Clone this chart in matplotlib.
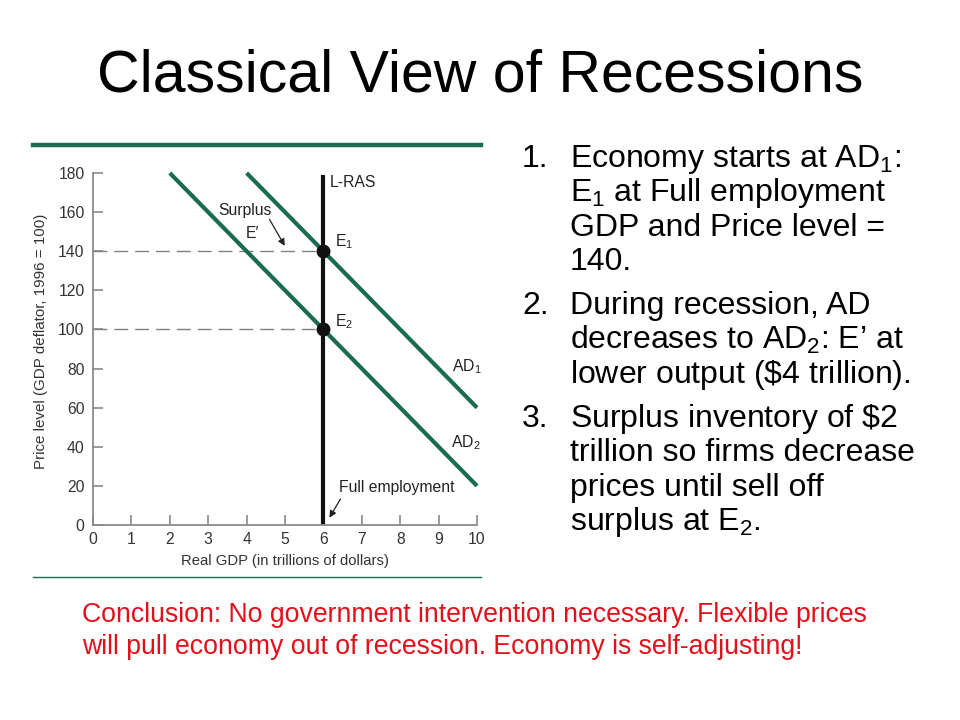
import matplotlib
matplotlib.use("Agg")
import matplotlib.pyplot as plt
from matplotlib.lines import Line2D

plt.rcParams['font.family'] = ['Liberation Sans', 'DejaVu Sans']
plt.rcParams['mathtext.fontset'] = 'custom'
plt.rcParams['mathtext.rm'] = 'Liberation Sans'
plt.rcParams['mathtext.it'] = 'Liberation Sans:italic'

# ---- data ----
ad1_x = [4, 10]
ad1_y = [180, 60]
ad2_x = [2, 10]
ad2_y = [180, 20]
lras_x = [6, 6]
lras_y = [0, 179]
eq_x = [6, 6]
eq_y = [140, 100]
dash_levels = [140, 100]
x_ticks = [0, 1, 2, 3, 4, 5, 6, 7, 8, 9, 10]
y_ticks = [0, 20, 40, 60, 80, 100, 120, 140, 160, 180]

title = "Classical View of Recessions"
bullets = [
    ("1.", ["Economy starts at AD$_1$:", "E$_1$ at Full employment", "GDP and Price level =", "140."]),
    ("2.", ["During recession, AD", "decreases to AD$_2$: E\u2019 at", "lower output ($\\$$4 trillion)."]),
    ("3.", ["Surplus inventory of $\\$$2", "trillion so firms decrease", "prices until sell off", "surplus at E$_2$."]),
]
conclusion = ["Conclusion: No government intervention necessary. Flexible prices",
              "will pull economy out of recession. Economy is self-adjusting!"]

GREEN = '#1b6b52'
W, H = 960, 720
fig = plt.figure(figsize=(9.6, 7.2), dpi=100)

def fx(px):
    return px / W

def fy(py):
    return 1 - py / H

# title
fig.text(0.5, fy(92), title, ha='center', va='baseline', fontsize=42.5, color='black')

# decorative lines
fig.add_artist(Line2D([fx(33), fx(481)], [fy(145), fy(145)], color=GREEN, lw=3.2))
fig.add_artist(Line2D([fx(33), fx(481)], [fy(577), fy(577)], color=GREEN, lw=1.0))

# axes
ax = fig.add_axes([fx(93), fy(525), 384 / W, 352 / H])
ax.set_xlim(0, 10)
ax.set_ylim(0, 180)
for s in ['top', 'right']:
    ax.spines[s].set_visible(False)
for s in ['left', 'bottom']:
    ax.spines[s].set_color('#8a8a8a')
    ax.spines[s].set_linewidth(1.3)
ax.set_xticks(x_ticks)
ax.set_yticks(y_ticks)
ax.tick_params(direction='in', length=7, width=1.2, color='#8a8a8a',
               labelsize=11.3, labelcolor='#333333')
ax.tick_params(axis='y', pad=6)
ax.tick_params(axis='x', pad=5)
ax.set_xlabel("Real GDP (in trillions of dollars)", fontsize=10.7, color='#333333', labelpad=5)
ax.set_ylabel("Price level (GDP deflator, 1996 = 100)", fontsize=10.9, color='#333333')
ax.yaxis.set_label_coords(-0.117, 0.523)

for lv in dash_levels:
    ax.plot([0, 6], [lv, lv], color='#808080', lw=1.0, dashes=(10, 5))

ax.plot(ad1_x, ad1_y, color=GREEN, lw=3.0, clip_on=False, solid_capstyle='butt')
ax.plot(ad2_x, ad2_y, color=GREEN, lw=3.0, clip_on=False, solid_capstyle='butt')
ax.plot(lras_x, lras_y, color='#111111', lw=3.0, clip_on=False, solid_capstyle='butt')
ax.plot(eq_x, eq_y, 'o', color='#111111', ms=9, clip_on=False, zorder=5)

tk = dict(fontsize=11.3, color='#222222')
ax.text(6.17, 175, "L-RAS", ha='left', va='center', **tk)
ax.text(6.3, 145, "E$_1$", ha='left', va='center', **tk)
ax.text(6.3, 104, "E$_2$", ha='left', va='center', **tk)
ax.text(9.35, 81, "AD$_1$", ha='left', va='center', **tk)
ax.text(9.33, 42, "AD$_2$", ha='left', va='center', **tk)
ax.text(3.26, 161, "Surplus", ha='left', va='center', **tk)
ax.text(3.97, 149, "E\u2032", ha='left', va='center', **tk)
ax.text(6.41, 19, "Full employment", ha='left', va='center', **tk)
ax.annotate("", xy=(5.03, 141.5), xytext=(4.56, 157.5),
            arrowprops=dict(arrowstyle='-|>', color='#222222', lw=0.9, mutation_scale=10))
ax.annotate("", xy=(6.12, 2.5), xytext=(6.48, 14.5),
            arrowprops=dict(arrowstyle='-|>', color='#222222', lw=0.9, mutation_scale=10))

# right-hand numbered list
line_h = 34.3
gap = 10.0
y = 167
for num, lines in bullets:
    fig.text(fx(522), fy(y), num, ha='left', va='baseline', fontsize=23, color='black')
    for ln in lines:
        fig.text(fx(570), fy(y), ln, ha='left', va='baseline', fontsize=23, color='black')
        y += line_h
    y += gap

# conclusion in red
for i, ln in enumerate(conclusion):
    fig.text(fx(82), fy(622 + 32 * i), ln, ha='left', va='baseline', fontsize=19.2,
             color='#e3101a')

fig.savefig("out.png", dpi=100)
